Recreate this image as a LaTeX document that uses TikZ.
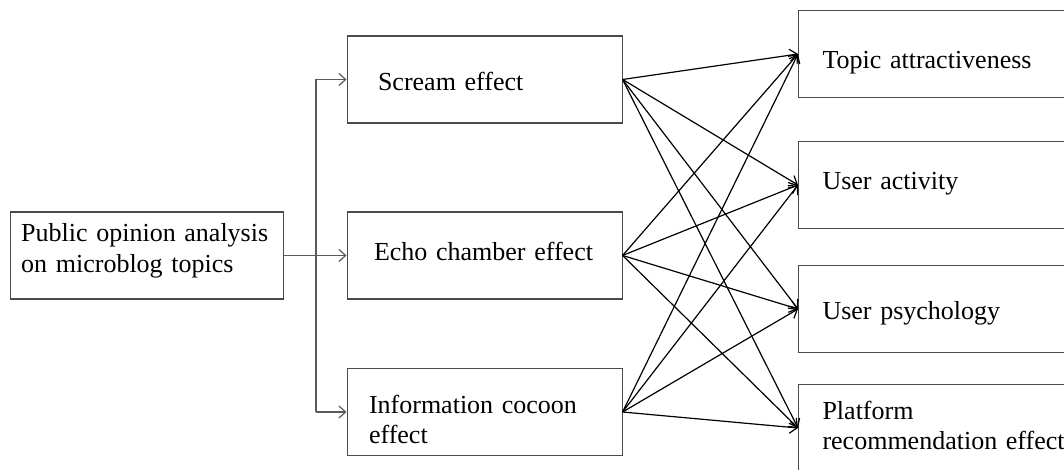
\documentclass[tikz,border=0pt]{standalone}
\usepackage{fontspec}
\setmainfont{Liberation Serif}
\usepackage{tikz}
\usetikzlibrary{arrows.meta,positioning}
\definecolor{boxgray}{HTML}{4A4A4A}
\definecolor{treegray}{HTML}{5A5A5A}

\begin{document}
\begin{tikzpicture}[
  x=1pt, y=-1pt,
  font=\fontsize{19.5}{23}\selectfont,
  box/.style={rectangle, draw=boxgray, line width=0.8pt, minimum height=65.25pt,
              align=left, inner ysep=0pt},
  midbox/.style={box, minimum width=206.25pt},
  effbox/.style={box, minimum width=226pt, inner xsep=18pt, text width=190pt},
  tree/.style={draw=treegray, line width=0.9pt},
  tarr/.style={tree, -{Straight Barb[length=5pt,width=9pt]}},
  arr/.style={-{Straight Barb[length=5.5pt,width=9pt]}, line width=0.9pt}
]
  \useasboundingbox (0,0) rectangle (798,351.75);
  \clip (0,0) rectangle (798,351.75);

  \node[box, minimum width=204.75pt, inner xsep=8pt, text width=188pt,
        text height=14pt, text depth=34.8pt]
    (pub) at (109.9,191.6) {Public opinion analysis\\ on microblog topics};

  \node[midbox, inner xsep=23.25pt, text width=159.75pt, text height=20.3pt, text depth=4.5pt]
    (scr) at (363.4,59.6) {Scream effect};
  \node[midbox, inner xsep=20.25pt, text width=165.75pt, text height=11.3pt, text depth=4.5pt]
    (ech) at (363.4,191.6) {Echo chamber effect};
  \node[midbox, inner xsep=16.5pt, text width=173.25pt, text height=14pt, text depth=12.5pt]
    (inf) at (363.4,309) {Information cocoon\\ effect};

  \node[effbox, anchor=west, text height=25.7pt, text depth=4.5pt]
    (top) at (598.5,40.5) {Topic attractiveness};
  \node[effbox, anchor=west, text height=10.5pt, text depth=4.5pt]
    (act) at (598.5,138.75) {User activity};
  \node[effbox, anchor=west, text height=19.5pt, text depth=4.5pt]
    (psy) at (598.5,231.75) {User psychology};
  \node[effbox, anchor=west, text height=15pt, text depth=27.5pt]
    (pla) at (598.5,321) {Platform\\[-1pt] recommendation effect};

  \coordinate (sp) at (237,191.6);
  \draw[tarr] (pub.east) -- (ech.west);
  \draw[tree] (sp |- scr.west) -- (sp |- inf.west);
  \draw[tarr] (sp |- scr.west) -- (scr.west);
  \draw[tarr] (sp |- inf.west) -- (inf.west);

  \foreach \s in {scr,ech,inf}
    \foreach \t in {top,act,psy,pla}
      \draw[arr] (\s.east) -- (\t.west);
\end{tikzpicture}
\end{document}
